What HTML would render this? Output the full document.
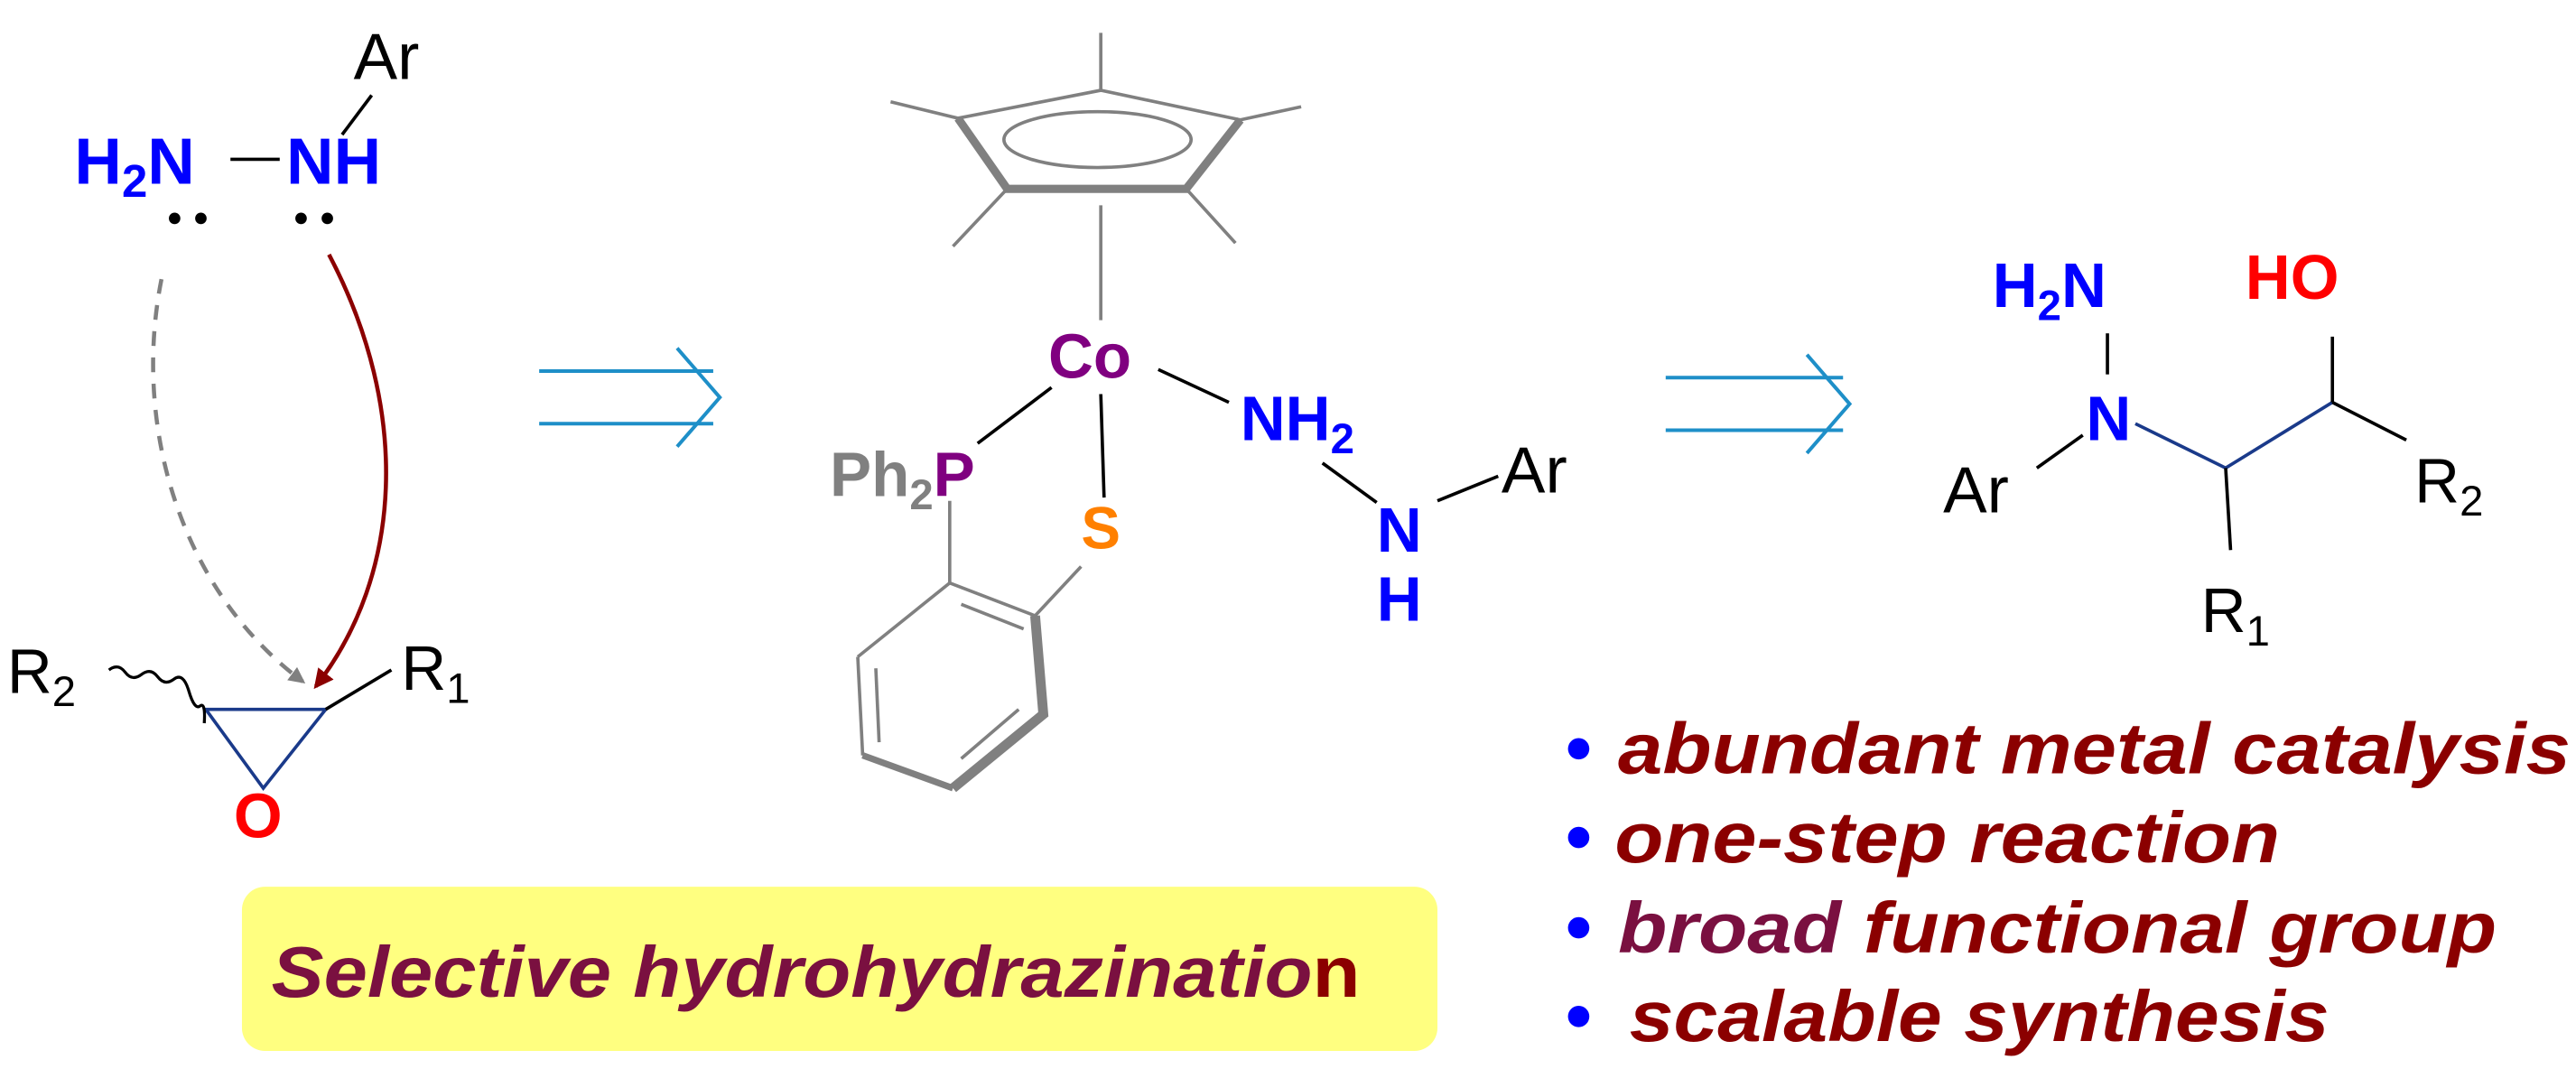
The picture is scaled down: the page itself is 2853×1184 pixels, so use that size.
<!DOCTYPE html>
<html><head><meta charset="utf-8"><style>
html,body{margin:0;padding:0;background:#fff;}
svg{display:block;}
text{font-family:"Liberation Sans",Arial,sans-serif;}
.b{font-weight:bold;}
</style></head><body>
<svg width="2853" height="1184" viewBox="0 0 1568 651" xmlns="http://www.w3.org/2000/svg">
<defs>
<marker id="ag" markerWidth="10" markerHeight="10" refX="8" refY="5" orient="auto" markerUnits="userSpaceOnUse"><path d="M0,0 L10,5 L0,10 Z" fill="#808080"/></marker>
<marker id="ar" markerWidth="12" markerHeight="12" refX="10" refY="6" orient="auto" markerUnits="userSpaceOnUse"><path d="M0,0 L12,6 L0,12 Z" fill="#8b0000"/></marker>
</defs>
<!-- hydrazine -->
<text x="215" y="48" font-size="40">Ar</text>
<line x1="226" y1="58" x2="208" y2="82" stroke="#000" stroke-width="2"/>
<text x="45" y="112" font-size="40" class="b" fill="#0000ff">H<tspan font-size="28" dy="8">2</tspan><tspan dy="-8">N</tspan></text>
<line x1="140" y1="97" x2="170" y2="97" stroke="#000" stroke-width="2"/>
<text x="174" y="112" font-size="40" class="b" fill="#0000ff">NH</text>
<circle cx="106" cy="133" r="3.5"/><circle cx="122" cy="133" r="3.5"/>
<circle cx="183" cy="133" r="3.5"/><circle cx="199" cy="133" r="3.5"/>
<path d="M98,170 C80,260 110,360 184,415" fill="none" stroke="#808080" stroke-width="2.5" stroke-dasharray="9,7" marker-end="url(#ag)"/>
<path d="M200,155 C250,250 245,350 192,418" fill="none" stroke="#8b0000" stroke-width="2.5" marker-end="url(#ar)"/>
<!-- epoxide -->
<path d="M125,432 L198,432 L160,480 Z" fill="none" stroke="#1a3a8a" stroke-width="2"/>
<text x="142" y="510" font-size="38" class="b" fill="#ff0000">O</text>
<text x="4" y="422" font-size="38">R<tspan font-size="26" dy="8">2</tspan></text>
<path d="M66,408 q5,-5 10,0 t10,0 t10,0 t10,0 t10,6 t8,8 t4,10" fill="none" stroke="#000" stroke-width="1.8" transform="rotate(8 66 408)"/>
<line x1="198" y1="432" x2="238" y2="408" stroke="#000" stroke-width="2"/>
<text x="244" y="420" font-size="38">R<tspan font-size="26" dy="8">1</tspan></text>
<!-- arrows -->
<g stroke="#1e8fc8" stroke-width="2.2" fill="none">
<line x1="328" y1="226" x2="434" y2="226"/><line x1="328" y1="258" x2="434" y2="258"/>
<path d="M412,212 L438,242 L412,272"/>
<line x1="1014" y1="230" x2="1122" y2="230"/><line x1="1014" y1="262" x2="1122" y2="262"/>
<path d="M1100,216 L1126,246 L1100,276"/>
</g>
<!-- Cp* -->
<g stroke="#808080" stroke-width="2" fill="none">
<path d="M583,72 L613,115 L722,115 L755,73" stroke-width="5" fill="#fff"/>
<path d="M583,72 L670,55 L755,73" />
<ellipse cx="668" cy="85" rx="57" ry="17"/>
<line x1="583" y1="72" x2="542" y2="62"/>
<line x1="670" y1="55" x2="670" y2="20"/>
<line x1="755" y1="73" x2="792" y2="65"/>
<line x1="613" y1="115" x2="580" y2="150"/>
<line x1="722" y1="115" x2="752" y2="148"/>
<line x1="670" y1="125" x2="670" y2="195"/>
</g>
<text x="638" y="230" font-size="38" class="b" fill="#800080">Co</text>
<line x1="640" y1="236" x2="595" y2="270" stroke="#000" stroke-width="2"/>
<text x="505" y="302" font-size="38" class="b" fill="#808080">Ph<tspan font-size="26" dy="8">2</tspan><tspan dy="-8" fill="#800080">P</tspan></text>
<line x1="670" y1="240" x2="672" y2="303" stroke="#000" stroke-width="2"/>
<text x="658" y="334" font-size="36" class="b" fill="#ff8000">S</text>
<line x1="705" y1="225" x2="748" y2="245" stroke="#000" stroke-width="2"/>
<text x="755" y="268" font-size="38" class="b" fill="#0000ff">NH<tspan font-size="26" dy="8">2</tspan></text>
<line x1="805" y1="282" x2="838" y2="306" stroke="#000" stroke-width="2"/>
<text x="838" y="336" font-size="38" class="b" fill="#0000ff">N</text>
<text x="838" y="378" font-size="38" class="b" fill="#0000ff">H</text>
<line x1="875" y1="305" x2="912" y2="290" stroke="#000" stroke-width="2"/>
<text x="914" y="300" font-size="40">Ar</text>
<!-- benzene -->
<g stroke="#808080" stroke-width="2" fill="none">
<line x1="578" y1="305" x2="578" y2="355"/>
<line x1="658" y1="345" x2="630" y2="375"/>
<line x1="578" y1="355" x2="630" y2="375"/>
<line x1="585" y1="368" x2="623" y2="383"/>
<line x1="578" y1="355" x2="522" y2="400"/>
<line x1="522" y1="400" x2="525" y2="460"/>
<line x1="533" y1="407" x2="535" y2="452"/>
<line x1="525" y1="460" x2="580" y2="480" stroke-width="4"/>
<path d="M630,375 L635,435 L580,480" stroke-width="6"/>
<line x1="620" y1="432" x2="585" y2="462"/>
</g>
<!-- yellow box -->
<rect x="147" y="540" width="728" height="100" rx="14" fill="#ffff80"/>
<text x="165" y="607" font-size="44" class="b" font-style="italic" fill="#7a1040" textLength="663" lengthAdjust="spacingAndGlyphs">Selective hydrohydrazinatio<tspan font-style="normal" fill="#8b0000">n</tspan></text>
<!-- product -->
<text x="1213" y="187" font-size="38" class="b" fill="#0000ff">H<tspan font-size="26" dy="8">2</tspan><tspan dy="-8">N</tspan></text>
<line x1="1283" y1="203" x2="1283" y2="228" stroke="#000" stroke-width="2"/>
<text x="1270" y="268" font-size="38" class="b" fill="#0000ff">N</text>
<text x="1367" y="182" font-size="38" class="b" fill="#ff0000">HO</text>
<text x="1183" y="312" font-size="40">Ar</text>
<line x1="1240" y1="285" x2="1268" y2="265" stroke="#000" stroke-width="2"/>
<g stroke="#1a3a8a" stroke-width="2"><line x1="1300" y1="258" x2="1355" y2="285"/><line x1="1355" y1="285" x2="1420" y2="245"/></g>
<g stroke="#000" stroke-width="2"><line x1="1420" y1="245" x2="1420" y2="205"/><line x1="1420" y1="245" x2="1465" y2="268"/><line x1="1355" y1="285" x2="1358" y2="335"/></g>
<text x="1470" y="306" font-size="38">R<tspan font-size="26" dy="8">2</tspan></text>
<text x="1340" y="385" font-size="38">R<tspan font-size="26" dy="8">1</tspan></text>
<!-- bullets -->
<g fill="#0000ff"><circle cx="961" cy="456" r="6.5"/><circle cx="961" cy="510" r="6.5"/><circle cx="961" cy="565" r="6.5"/><circle cx="961" cy="619" r="6.5"/></g>
<g font-size="44" font-weight="bold" font-style="italic" fill="#8b0000" lengthAdjust="spacingAndGlyphs">
<text x="985" y="471" textLength="580" lengthAdjust="spacingAndGlyphs">abundant metal catalysis</text>
<text x="983" y="525" textLength="405" lengthAdjust="spacingAndGlyphs">one-step reaction</text>
<text x="985" y="580" textLength="535" lengthAdjust="spacingAndGlyphs"><tspan fill="#7a1040">broad</tspan> functional group</text>
<text x="992" y="634" textLength="426" lengthAdjust="spacingAndGlyphs">scalable synthesis</text>
</g>
</svg>
</body></html>
